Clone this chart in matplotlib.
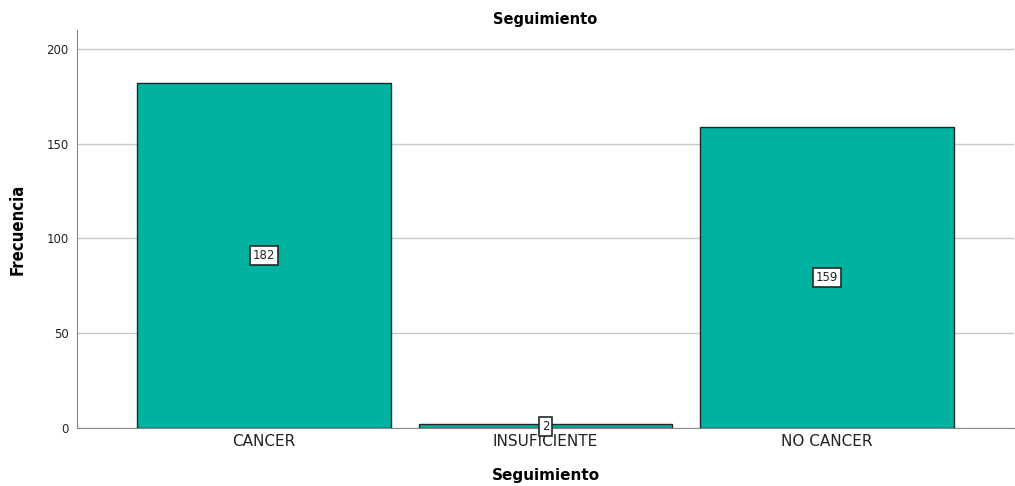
import matplotlib
matplotlib.use("Agg")
import matplotlib.pyplot as plt

categories = ["CANCER", "INSUFICIENTE", "NO CANCER"]
counts = [182, 2, 159]

fig = plt.figure(figsize=(10.15, 4.86), dpi=100)
ax = fig.add_axes([77 / 1015, 58 / 486, 937 / 1015, 398 / 486])

x = list(range(len(categories)))
bars = ax.bar(x, counts, width=0.9, color="#00b2a0", edgecolor="#1a2a28", linewidth=1.0, zorder=3)

# value labels in the middle of each bar
for xi, c in zip(x, counts):
    ax.text(xi, c / 2, str(c), ha="center", va="center", fontsize=8.5, color="#222222", zorder=4,
            bbox=dict(boxstyle="square,pad=0.25", facecolor="white", edgecolor="#1a2a28", linewidth=1.2))

ax.set_xlim(-0.665, 2.665)
ax.set_ylim(0, 210)
ax.set_yticks([0, 50, 100, 150, 200])
ax.set_xticks(x)
ax.set_xticklabels(categories, fontsize=11, color="#222222")
ax.tick_params(axis="both", length=0)
ax.tick_params(axis="y", labelsize=8.5, colors="#222222", pad=6)
ax.tick_params(axis="x", pad=4)

ax.yaxis.grid(True, color="#c8c8c8", linewidth=1.0, zorder=0)
ax.set_axisbelow(True)
for s in ["top", "right"]:
    ax.spines[s].set_visible(False)
ax.spines["left"].set_color("#888888")
ax.spines["bottom"].set_color("#888888")

ax.set_title("Seguimiento", fontsize=10.5, fontweight="bold", pad=4, x=0.5)
ax.set_xlabel("Seguimiento", fontsize=11, fontweight="bold", labelpad=14)
ax.set_ylabel("Frecuencia", fontsize=12, fontweight="bold", labelpad=14, fontstretch="condensed")

fig.savefig("out.png", dpi=100)
